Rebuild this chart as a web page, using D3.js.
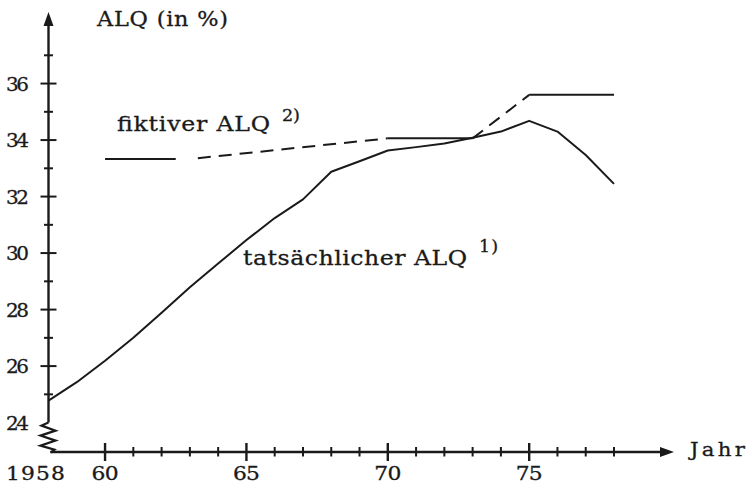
<!DOCTYPE html>
<html>
<head>
<meta charset="utf-8">
<script src="https://cdn.jsdelivr.net/npm/d3@7"></script>
<style>
  html, body { margin: 0; padding: 0; background: #fff; }
  svg { display: block; }
  text { font-family: "DejaVu Serif", "Liberation Serif", serif; fill: #1a1a1a; stroke: #1a1a1a; stroke-width: 0.3px; }
</style>
</head>
<body>
<svg id="chart" width="748" height="486"></svg>
<script>
// ---- data ----
const years = [1958, 1959, 1960, 1961, 1962, 1963, 1964, 1965, 1966, 1967, 1968,
               1969, 1970, 1971, 1972, 1973, 1974, 1975, 1976, 1977, 1978];
const actualALQ = [24.78, 25.43, 26.19, 27.0, 27.89, 28.79, 29.63, 30.46, 31.24, 31.9, 32.88,
                   33.25, 33.63, 33.75, 33.88, 34.08, 34.3, 34.68, 34.3, 33.47, 32.45];
const fictYears = [1960, 1963, 1970, 1973, 1975, 1978];
const fictALQ = [33.33, 33.33, 34.06, 34.06, 35.6, 35.6];
const yTickValues = [24, 26, 28, 30, 32, 34, 36];
const yTickLabels = ["24", "26", "28", "30", "32", "34", "36"];
const yMinorTicks = [25, 27, 29, 31, 33, 35, 37];
const xMajorTicks = [1960, 1965, 1970, 1975];
const xTickLabels = ["1958", "60", "65", "70", "75"];
const xLabelYears = [1958, 1960, 1965, 1970, 1975];
const xMinorTicks = [1961, 1962, 1963, 1964, 1966, 1967, 1968, 1969, 1971, 1972, 1973, 1974, 1976, 1977, 1978];

// ---- scales ----
const x = d3.scaleLinear().domain([1958, 1978]).range([48.5, 614]);
const y = d3.scaleLinear().domain([24, 37]).range([422.6, 55.3]);

const svg = d3.select("#chart");
const ink = "#1a1a1a";
const axisY0 = 452;   // x-axis baseline
const ax = x(1958);

// text helper: widened glyphs to resemble the original typeface
function label(txt, x0, y0, size, width, anchor, sx) {
  return svg.append("text")
    .attr("transform", `translate(${x0},${y0}) scale(${sx},1)`)
    .attr("x", 0).attr("y", 0)
    .attr("font-size", size)
    .attr("text-anchor", anchor)
    .attr("textLength", width / sx).attr("lengthAdjust", "spacing")
    .text(txt);
}

// ---- axes ----
svg.append("path")
  .attr("d", `M${ax},22 L${ax},${y(24)}`)
  .attr("stroke", ink).attr("stroke-width", 2.4).attr("fill", "none");
svg.append("path")
  .attr("d", `M${ax},12 L${ax - 5},26 L${ax + 5},26 Z`)
  .attr("fill", ink);
// zigzag break
const zz = [[0, 0], [-7, 3], [7, 8], [-8, 13], [7, 18], [-8, 23], [6, 27], [2, 30]];
svg.append("path")
  .attr("d", d3.line()(zz.map(p => [ax + p[0], y(24) + p[1]])))
  .attr("stroke", ink).attr("stroke-width", 2.2).attr("fill", "none");
svg.append("path")
  .attr("d", `M${ax + 2},${axisY0} L662,${axisY0}`)
  .attr("stroke", ink).attr("stroke-width", 2.4).attr("fill", "none");
svg.append("path")
  .attr("d", `M674,${axisY0} L660,${axisY0 - 5} L660,${axisY0 + 5} Z`)
  .attr("fill", ink);

// y ticks
svg.selectAll(".ymaj").data(yTickValues.filter(v => v > 24)).enter().append("line")
  .attr("x1", ax - 8).attr("x2", ax + 8)
  .attr("y1", d => y(d)).attr("y2", d => y(d))
  .attr("stroke", ink).attr("stroke-width", 2);
svg.selectAll(".ymin").data(yMinorTicks).enter().append("line")
  .attr("x1", ax - 4.5).attr("x2", ax + 4.5)
  .attr("y1", d => y(d)).attr("y2", d => y(d))
  .attr("stroke", ink).attr("stroke-width", 2);
yTickValues.forEach((v, i) => label(yTickLabels[i], 29, y(v) + 7, 19, 23, "end", 1.05));

// x ticks
svg.selectAll(".xmaj").data(xMajorTicks).enter().append("line")
  .attr("x1", d => x(d)).attr("x2", d => x(d))
  .attr("y1", axisY0 - 9).attr("y2", axisY0 + 9)
  .attr("stroke", ink).attr("stroke-width", 2.4);
svg.selectAll(".xmin").data(xMinorTicks).enter().append("line")
  .attr("x1", d => x(d)).attr("x2", d => x(d))
  .attr("y1", axisY0 - 5).attr("y2", axisY0 + 4.5)
  .attr("stroke", ink).attr("stroke-width", 2);
xLabelYears.forEach((v, i) =>
  label(xTickLabels[i], i === 0 ? x(v) - 13 : x(v), 480, 19, i === 0 ? 59 : 27, "middle", 1.15));

// ---- data lines ----
const line = d3.line().x(d => x(d[0])).y(d => y(d[1]));
svg.append("path")
  .datum(years.map((yr, i) => [yr, actualALQ[i]]))
  .attr("d", line)
  .attr("fill", "none").attr("stroke", ink).attr("stroke-width", 2)
  .attr("stroke-linejoin", "round");

for (let i = 0; i < fictYears.length - 1; i++) {
  const seg = [[fictYears[i], fictALQ[i]], [fictYears[i + 1], fictALQ[i + 1]]];
  const dashed = i % 2 === 1;
  const p = svg.append("path").datum(seg).attr("d", line)
    .attr("fill", "none").attr("stroke", ink).attr("stroke-width", 2);
  if (dashed) {
    p.attr("stroke-dasharray", "13,8");
    if (i === 1) p.attr("stroke-dashoffset", 13);
  } else if (i === 0) {
    p.attr("d", line([seg[0], [seg[1][0] - 0.5, seg[1][1]]]));
  }
}

// ---- labels ----
label("ALQ  (in %)", 97, 26, 20, 131, "start", 1.12);
label("fiktiver ALQ", 117, 131, 20, 153, "start", 1.18);
label("2)", 282, 121, 16, 18, "start", 1.1);
label("tatsächlicher ALQ", 243, 265, 20, 224, "start", 1.18);
label("1)", 479, 252, 16, 19, "start", 1.1);
label("Jahr", 690, 456, 19, 55, "start", 1.12);
</script>
</body>
</html>
